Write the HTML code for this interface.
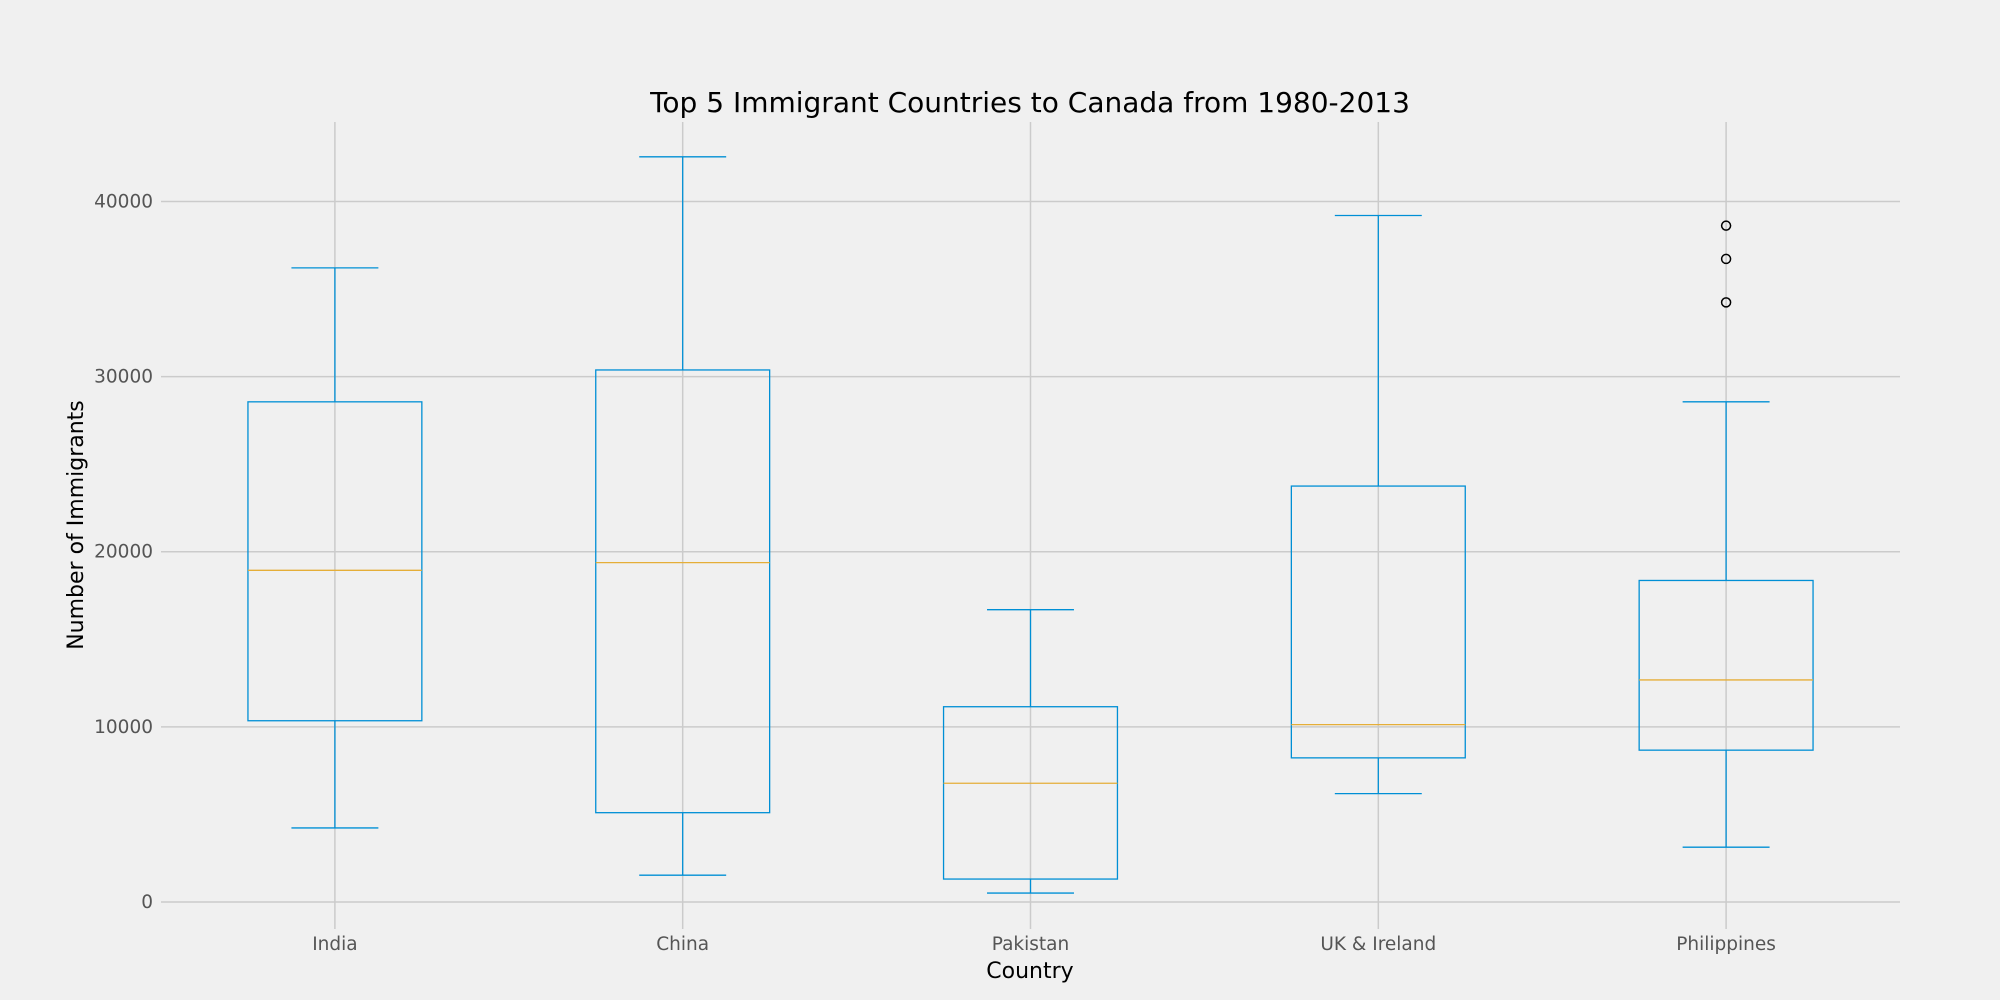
<!DOCTYPE html>
<html><head><meta charset="utf-8"><style>
html,body{margin:0;padding:0;background:#f0f0f0;}
svg{display:block;font-family:"DejaVu Sans","Liberation Sans",sans-serif;}
</style></head><body>
<svg id="chart" width="2000" height="1000" viewBox="0 0 2000 1000">
<rect width="2000" height="1000" fill="#f0f0f0"/>
<g id="grid"></g><g id="marks"></g><g id="labels"></g>
<text x="1030" y="112" font-size="28" text-anchor="middle" fill="#000">Top 5 Immigrant Countries to Canada from 1980-2013</text>
<text x="1030" y="978" font-size="22" text-anchor="middle" fill="#000">Country</text>
<text transform="translate(83,525) rotate(-90)" font-size="22" text-anchor="middle" fill="#000">Number of Immigrants</text>
</svg>
<script>
const categories=["India","China","Pakistan","UK & Ireland","Philippines"];
const whiskerLow=[4230,1530,510,6190,3130];
const q1=[10350,5100,1310,8230,8670];
const medians=[18940,19380,6780,10130,12680];
const q3=[28560,30380,11150,23750,18360];
const whiskerHigh=[36210,42550,16690,39200,28560];
const outliers=[[],[],[],[],[38620,36720,34240]];
const yTicks=[0,10000,20000,30000,40000];
const NS="http://www.w3.org/2000/svg";
const L=161,R=1900,T=122,B=929,ymin=-1542,ymax=44539;
const x=i=>L+(i+0.5)/categories.length*(R-L);
const y=v=>B-(v-ymin)/(ymax-ymin)*(B-T);
const hw=(R-L)/categories.length*0.25;
function mk(p,t,a){const e=document.createElementNS(NS,t);for(const k in a)e.setAttribute(k,a[k]);p.appendChild(e);return e;}
const g=document.getElementById('grid'),m=document.getElementById('marks'),lb=document.getElementById('labels');
yTicks.forEach(v=>{
 const l=mk(g,'line',{x1:L,x2:R,y1:y(v),y2:y(v),stroke:'#cbcbcb','stroke-width':1.5});
 
 
 const t=mk(lb,'text',{x:L-8,y:y(v)+6,'font-size':18.5,fill:'#555','text-anchor':'end'});
 t.textContent=v;
 
 
});
categories.forEach((c,i)=>{
 const cx=x(i);
 const gl=mk(g,'line',{x1:cx,x2:cx,y1:T,y2:B,stroke:'#cbcbcb','stroke-width':1.5});
 
 
 const t=mk(lb,'text',{x:cx,y:950,'font-size':18.5,fill:'#555','text-anchor':'middle'});
 t.textContent=c;
 
 
 const grp=mk(m,'g',{stroke:'#008fd5','stroke-width':1.3,fill:'none'});
 
 
 mk(grp,'rect',{x:cx-hw,y:y(q3[i]),width:2*hw,height:y(q1[i])-y(q3[i])});
 mk(grp,'line',{x1:cx,x2:cx,y1:y(q3[i]),y2:y(whiskerHigh[i])});
 mk(grp,'line',{x1:cx,x2:cx,y1:y(q1[i]),y2:y(whiskerLow[i])});
 mk(grp,'line',{x1:cx-hw/2,x2:cx+hw/2,y1:y(whiskerHigh[i]),y2:y(whiskerHigh[i])});
 mk(grp,'line',{x1:cx-hw/2,x2:cx+hw/2,y1:y(whiskerLow[i]),y2:y(whiskerLow[i])});
 const md=mk(m,'line',{x1:cx-hw,x2:cx+hw,y1:y(medians[i]),y2:y(medians[i]),stroke:'#e5ae38','stroke-width':1.3});
 
 
 outliers[i].forEach(v=>{
  const o=mk(m,'circle',{cx:cx,cy:y(v),r:4.5,fill:'none',stroke:'#000','stroke-width':1.5});
  
  
 });
});
</script>
</body></html>
